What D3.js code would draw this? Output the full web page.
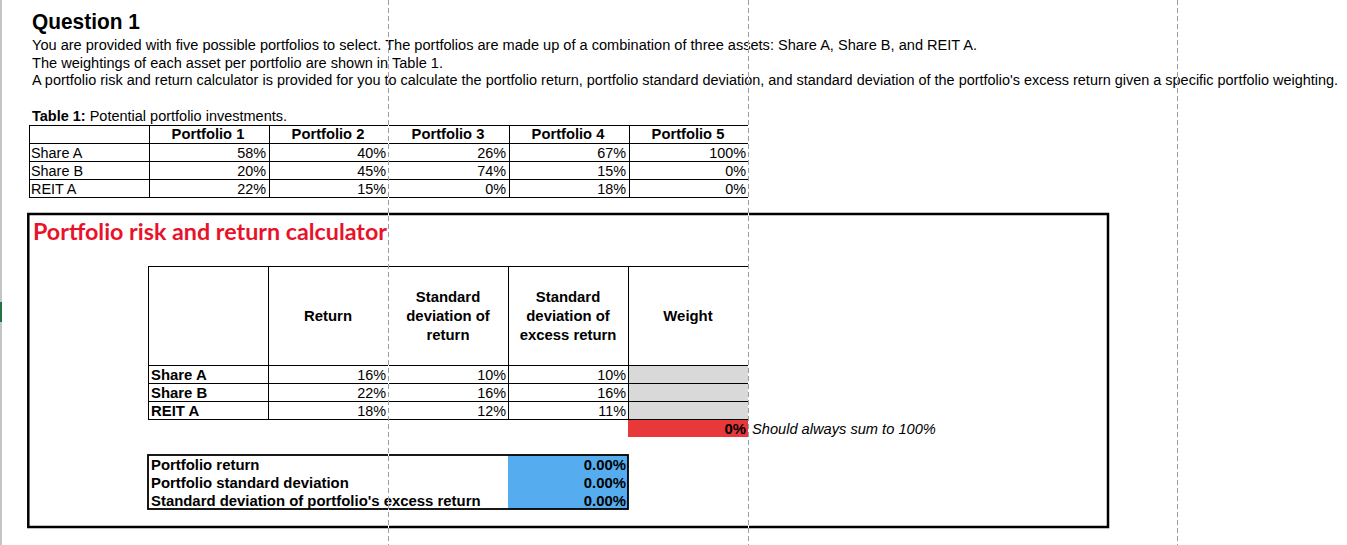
<!DOCTYPE html>
<html>
<head>
<meta charset="utf-8">
<script src="https://cdn.jsdelivr.net/npm/d3@7"></script>
<style>
body{margin:0;background:#fff;overflow:hidden}
text{font-family:"Liberation Sans",Arial,sans-serif}
</style>
</head>
<body>
<div class="bod"></div>
<script>
//Global data
const introLines = [
  "You are provided with five possible portfolios to select. The portfolios are made up of a combination of three assets: Share A, Share B, and REIT A.",
  "The weightings of each asset per portfolio are shown in Table 1.",
  "A portfolio risk and return calculator is provided for you to calculate the portfolio return, portfolio standard deviation, and standard deviation of the portfolio's excess return given a specific portfolio weighting."
]
const portfolios = ["Portfolio 1","Portfolio 2","Portfolio 3","Portfolio 4","Portfolio 5"]
const assets = ["Share A","Share B","REIT A"]
const wShareA = [0.58,0.40,0.26,0.67,1.00]
const wShareB = [0.20,0.45,0.74,0.15,0.00]
const wReitA = [0.22,0.15,0.00,0.18,0.00]

const calcHeads = [["Return"],["Standard","deviation of","return"],["Standard","deviation of","excess return"],["Weight"]]
const assetReturn = [0.16,0.22,0.18]
const assetSd = [0.10,0.16,0.12]
const assetExcessSd = [0.10,0.16,0.11]
const weightSum = 0

const summaryLabels = ["Portfolio return","Portfolio standard deviation","Standard deviation of portfolio's excess return"]
const summaryValues = [0,0,0]

const pct0 = d3.format(".0%")
const pct2 = d3.format(".2%")

//layout
const size = {width:1347,height:545}
const col = d3.scaleLinear().domain([0,1]).range([28,148])   // spreadsheet columns, 120px
const t1Row = d3.scaleLinear().domain([0,1]).range([125,143]) // table 1 rows
const cRow = d3.scaleLinear().domain([0,1]).range([365,383])  // calculator rows
const sRow = d3.scaleLinear().domain([0,1]).range([455,473])  // summary rows
const pageBreaks = [388,748,1177]

const svg = d3.select('.bod')
  .append('svg')
  .attr('width',size.width)
  .attr('height',size.height)

//text helper, squeezed horizontally like the sheet rendering
const txt = (x,y,str,o={}) => {
  let t = svg.append('text')
    .attr('transform',`translate(${x},${y}) scale(${o.sx||0.93},1)`)
    .attr('text-anchor',o.anchor||'start')
    .attr('font-size',o.size||15.5)
    .attr('font-weight',o.weight||'normal')
    .attr('font-style',o.style||'normal')
    .attr('fill',o.fill||'#000')
    .text(str)
  if(o.family) t.style('font-family',o.family)
  return t
}
const line = (x1,y1,x2,y2,w=1) => svg.append('line')
  .attr('x1',x1).attr('y1',y1).attr('x2',x2).attr('y2',y2)
  .attr('stroke','#000').attr('stroke-width',w).attr('shape-rendering','crispEdges')

//row header edge
svg.append('rect').attr('x',0).attr('y',0).attr('width',2).attr('height',size.height).attr('fill','#c4c4c4')
svg.append('rect').attr('x',0).attr('y',302).attr('width',2).attr('height',20).attr('fill','#217346')

//question text
txt(32,29,"Question 1",{size:22,weight:'bold',sx:0.95})
const introEnds = [977,443,1338]
introLines.forEach((s,i)=>{
  svg.append('text')
    .attr('x',32).attr('y',50+i*17.5)
    .attr('font-size',15.5)
    .attr('textLength',introEnds[i]-32)
    .attr('lengthAdjust','spacingAndGlyphs')
    .text(s)
})

//table 1
let cap = svg.append('text').attr('x',32).attr('y',120.5).attr('font-size',15.5)
  .attr('textLength',255).attr('lengthAdjust','spacingAndGlyphs')
cap.append('tspan').attr('font-weight','bold').text('Table 1:')
cap.append('tspan').text(' Potential portfolio investments.')

const t1Weights = [wShareA,wShareB,wReitA]
d3.range(5).forEach(r=>line(col(0)+1,t1Row(r),col(6),t1Row(r)))
;[0,1,2,4,5].forEach(c=>line(col(c)+1,t1Row(0),col(c)+1,t1Row(4)))
portfolios.forEach((p,i)=>{
  txt((col(i+1)+col(i+2))/2,t1Row(0)+14,p,{weight:'bold',anchor:'middle',sx:0.95})
})
assets.forEach((a,r)=>{
  txt(col(0)+3,t1Row(r+1)+14.5,a)
  t1Weights[r].forEach((v,i)=>txt(col(i+2)-2,t1Row(r+1)+14.5,pct0(v),{anchor:'end'}))
})

//calculator box
svg.append('rect')
  .attr('x',28.3).attr('y',214).attr('width',1108-28.3).attr('height',527-214)
  .attr('fill','none').attr('stroke','#000').attr('stroke-width',2.5)
svg.append('text')
  .attr('x',33).attr('y',239.5)
  .attr('font-size',23).attr('font-weight','bold')
  .attr('fill','#e8132b')
  .style('font-family','Lato,"Open Sans",sans-serif')
  .attr('textLength',354).attr('lengthAdjust','spacingAndGlyphs')
  .text('Portfolio risk and return calculator')

//weight cells + sum cell
svg.selectAll('.wcell').data(assets).enter().append('rect')
  .attr('class','wcell')
  .attr('x',col(5)).attr('y',(d,i)=>cRow(i)).attr('width',120).attr('height',18)
  .attr('fill','#d9d9d9')
svg.append('rect').attr('x',col(5)).attr('y',cRow(3)).attr('width',120).attr('height',18).attr('fill','#e8383a')

//calculator grid
line(col(1),266,col(6),266)
d3.range(4).forEach(r=>line(col(1),cRow(r),col(6),cRow(r)))
;[1,2,4,5].forEach(c=>line(col(c)+0.5,266,col(c)+0.5,cRow(3)))

calcHeads.forEach((h,i)=>{
  let cx = (col(i+2)+col(i+3))/2
  let y0 = 320.5 - (h.length-1)*19/2
  h.forEach((s,k)=>txt(cx,y0+k*19,s,{weight:'bold',anchor:'middle',sx:0.96}))
})
assets.forEach((a,r)=>{
  let y = cRow(r)+14.5
  txt(col(1)+3,y,a,{weight:'bold',sx:0.96})
  txt(col(3)-2,y,pct0(assetReturn[r]),{anchor:'end'})
  txt(col(4)-2,y,pct0(assetSd[r]),{anchor:'end'})
  txt(col(5)-2,y,pct0(assetExcessSd[r]),{anchor:'end'})
})
txt(col(6)-2,cRow(3)+14.5,pct0(weightSum),{weight:'bold',anchor:'end',sx:0.96})
txt(col(6)+4,cRow(3)+14.5,"Should always sum to 100%",{style:'italic',sx:0.945})

//summary
svg.append('rect').attr('x',col(4)).attr('y',sRow(0)).attr('width',120).attr('height',54).attr('fill','#55acee')
svg.append('rect')
  .attr('x',col(1)).attr('y',sRow(0)).attr('width',col(5)-col(1)).attr('height',sRow(3)-sRow(0))
  .attr('fill','none').attr('stroke','#000').attr('stroke-width',1.8)
summaryLabels.forEach((s,i)=>{
  txt(col(1)+3,sRow(i)+14.5,s,{weight:'bold',sx:0.962})
  txt(col(5)-2,sRow(i)+14.5,pct2(summaryValues[i]),{weight:'bold',anchor:'end',sx:0.96})
})

//page breaks
pageBreaks.forEach(x=>{
  svg.append('line').attr('x1',x+0.5).attr('x2',x+0.5).attr('y1',0).attr('y2',size.height)
    .attr('stroke','#fff').attr('stroke-width',1)
  svg.append('line').attr('x1',x+0.5).attr('x2',x+0.5).attr('y1',0).attr('y2',size.height)
    .attr('stroke','#9e9e9e').attr('stroke-width',1).attr('stroke-dasharray','5,3')
})
</script>
</body>
</html>
